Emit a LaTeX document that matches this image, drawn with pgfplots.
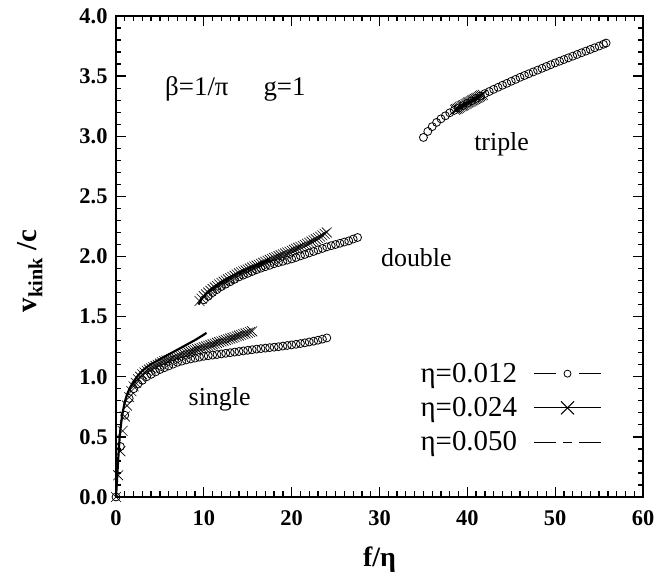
\documentclass[border=0pt]{standalone}
\usepackage{fontspec}
\setmainfont{Liberation Serif}
\usepackage{pgfplots}
\pgfplotsset{compat=1.18}
\begin{document}
\begin{tikzpicture}
\begin{axis}[
  scale only axis, width=527bp, height=481bp,
  xmin=0, xmax=60, ymin=0, ymax=4,
  xtick={0,10,...,60}, ytick={0,0.5,...,4},
  minor x tick num=9, minor y tick num=4,
  tick align=inside, major tick length=10bp, minor tick length=5.5bp,
  every tick/.append style={line width=1.3pt, black},
  axis line style={line width=1.5pt},
  /pgf/number format/assume math mode=true,
  xticklabel style={font=\fontsize{22.5}{25}\selectfont\bfseries, yshift=-10bp},
  yticklabel style={font=\fontsize{22.5}{25}\selectfont\bfseries, xshift=-5bp, /pgf/number format/.cd, fixed, fixed zerofill, precision=1},
  xlabel={\textbf{f/η}}, ylabel={\textbf{v\textsubscript{kink} /c}},
  xlabel style={font=\fontsize{28}{30}\selectfont, at={(axis description cs:0.5,-0.131)}, anchor=center},
  ylabel style={font=\fontsize{29}{30}\selectfont, at={(axis description cs:-0.163,0.47)}, anchor=center},
  legend plot pos=right,
  legend cell align=right,
  legend style={at={(axis cs:55.3,1.13)}, anchor=north east, draw=none, fill=none,
    font=\fontsize{29}{32}\selectfont, row sep=9.5bp, inner sep=0pt},
  clip=false,
]
\coordinate (sw) at (rel axis cs:0,0);
% eta = 0.012 : circles
\addplot[only marks, mark=o, mark size=4pt, mark options={line width=0.8pt, fill=white},
  legend image code/.code={\path[draw=none, fill=none] (0bp,0bp) -- (15bp,0bp); \draw[line width=1pt] (15bp,0bp) -- (37bp,0bp); \draw[line width=0.8pt] (48.5bp,0bp) circle (3.5bp); \draw[line width=1pt] (60bp,0bp) -- (82bp,0bp);}]
coordinates {
(0,0) (0.5,0.42) (1,0.68) (1.5,0.82) (2,0.90) (2.5,0.94) (3,0.97) (3.5,1.0) (4,1.02) (4.5,1.04)
(5,1.06) (5.5,1.075) (6,1.09) (6.5,1.105) (7,1.12) (7.5,1.13) (8,1.14) (8.5,1.148) (9,1.155) (9.5,1.163)
(10,1.17) (10.5,1.175) (11,1.18) (11.5,1.185) (12,1.19) (12.5,1.195) (13,1.20) (13.5,1.205) (14,1.21) (14.5,1.215)
(15,1.22) (15.5,1.225) (16,1.23) (16.5,1.234) (17,1.238) (17.5,1.242) (18,1.246) (18.5,1.25) (19,1.255) (19.5,1.26)
(20,1.265) (20.5,1.27) (21,1.276) (21.5,1.282) (22,1.289) (22.5,1.296) (23,1.304) (23.5,1.313) (24,1.323)
};
\addlegendentry{η=0.012}
% eta = 0.024 : crosses
\addplot[only marks, mark=x, mark size=7pt, mark options={line width=0.6pt},
  legend image code/.code={\path[draw=none, fill=none] (0bp,0bp) -- (15bp,0bp); \draw[line width=1pt] (15bp,0bp) -- (82bp,0bp); \draw[line width=1pt] (42bp,-6.5bp) -- (55bp,6.5bp); \draw[line width=1pt] (42bp,6.5bp) -- (55bp,-6.5bp);}]
coordinates {
(0,0) (0.25,0.18) (0.5,0.38) (0.75,0.55) (1,0.67) (1.25,0.76) (1.5,0.83) (1.75,0.88) (2,0.92) (2.25,0.95)
(2.5,0.98) (2.75,1.0) (3,1.02) (3.25,1.035) (3.5,1.05) (3.75,1.06) (4,1.07) (4.25,1.08) (4.5,1.09) (4.75,1.10)
(5,1.11) (5.25,1.12) (5.5,1.13) (5.75,1.135) (6,1.14) (6.25,1.148) (6.5,1.155) (6.75,1.162) (7,1.17) (7.25,1.177)
(7.5,1.184) (7.75,1.19) (8,1.197) (8.25,1.203) (8.5,1.21) (8.75,1.216) (9,1.222) (9.25,1.228) (9.5,1.234) (9.75,1.24)
(10,1.246) (10.25,1.252) (10.5,1.258) (10.75,1.264) (11,1.27) (11.25,1.276) (11.5,1.282) (11.75,1.288) (12,1.294) (12.25,1.30)
(12.5,1.306) (12.75,1.312) (13,1.318) (13.25,1.324) (13.5,1.33) (13.75,1.336) (14,1.342) (14.25,1.348) (14.5,1.354) (14.75,1.36)
(15,1.366) (15.25,1.372) (15.5,1.378)
};
\addlegendentry{η=0.024}
% eta = 0.050 : dense dashes (thick curve)
\addplot[line width=2.2pt, no marks,
  legend image code/.code={\path[draw=none, fill=none] (0bp,0bp) -- (15bp,0bp); \draw[line width=1pt] (15bp,0bp) -- (37bp,0bp); \draw[line width=1pt] (44bp,0bp) -- (53bp,0bp); \draw[line width=1pt] (60bp,0bp) -- (82bp,0bp);}]
coordinates {
(0,0) (0.1,0.12) (0.2,0.25) (0.3,0.37) (0.4,0.48) (0.5,0.56) (0.7,0.68) (1,0.79) (1.3,0.86) (1.6,0.91)
(2,0.96) (2.5,1.01) (3,1.05) (3.5,1.08) (4,1.105) (5,1.145) (6,1.185) (7,1.225) (8,1.265) (9,1.305) (10,1.35) (10.3,1.365)
};
\addlegendentry{η=0.050}
% double branch
\addplot[forget plot, only marks, mark=o, mark size=4pt, mark options={line width=0.8pt, fill=white}]
coordinates {
(10,1.64) (10.5,1.67) (11,1.70) (11.5,1.725) (12,1.75) (12.5,1.77) (13,1.79) (13.5,1.81) (14,1.83) (14.5,1.845)
(15,1.86) (15.5,1.875) (16,1.89) (16.5,1.903) (17,1.915) (17.5,1.927) (18,1.94) (18.5,1.95) (19,1.96) (19.5,1.97)
(20,1.98) (20.5,1.992) (21,2.005) (21.5,2.017) (22,2.03) (22.5,2.042) (23,2.055) (23.5,2.067) (24,2.08) (24.5,2.09)
(25,2.10) (25.5,2.11) (26,2.12) (26.5,2.13) (27,2.145) (27.5,2.158)
};
\addplot[forget plot, only marks, mark=x, mark size=7pt, mark options={line width=0.6pt}]
coordinates {
(9.5,1.63) (9.75,1.65) (10,1.67) (10.25,1.685) (10.5,1.70) (10.75,1.715) (11,1.73) (11.25,1.743) (11.5,1.755) (11.75,1.768)
(12,1.78) (12.25,1.79) (12.5,1.80) (12.75,1.81) (13,1.82) (13.25,1.83) (13.5,1.84) (13.75,1.85) (14,1.86) (14.25,1.868)
(14.5,1.876) (14.75,1.884) (15,1.892) (15.25,1.90) (15.5,1.908) (15.75,1.916) (16,1.924) (16.25,1.932) (16.5,1.94) (16.75,1.948)
(17,1.956) (17.25,1.964) (17.5,1.972) (17.75,1.98) (18,1.988) (18.25,1.995) (18.5,2.003) (18.75,2.01) (19,2.018) (19.25,2.025)
(19.5,2.033) (19.75,2.04) (20,2.048) (20.25,2.056) (20.5,2.064) (20.75,2.072) (21,2.08) (21.25,2.088) (21.5,2.097) (21.75,2.106)
(22,2.115) (22.25,2.124) (22.5,2.134) (22.75,2.144) (23,2.154) (23.25,2.165) (23.5,2.176) (23.75,2.188) (24,2.20)
};
\addplot[forget plot, line width=2.2pt, no marks]
coordinates {
(9.4,1.6) (9.7,1.64) (10,1.67) (10.5,1.71) (11,1.74) (12,1.79) (13,1.83) (14,1.865) (15,1.9) (16,1.93) (17,1.96) (17.5,1.975)
};
% triple branch
\addplot[forget plot, only marks, mark=o, mark size=4pt, mark options={line width=0.8pt, fill=white}]
coordinates {
(35,2.99) (35.5,3.04) (36,3.08) (36.5,3.115) (37,3.145) (37.5,3.17) (38,3.195) (38.5,3.215) (39,3.235) (39.5,3.255)
(40,3.275) (40.5,3.295) (41,3.315) (41.5,3.335) (42,3.355) (42.5,3.372) (43,3.39) (43.5,3.407) (44,3.424) (44.5,3.44)
(45,3.457) (45.5,3.473) (46,3.49) (46.5,3.505) (47,3.52) (47.5,3.535) (48,3.55) (48.5,3.565) (49,3.58) (49.5,3.595)
(50,3.61) (50.5,3.624) (51,3.638) (51.5,3.652) (52,3.666) (52.5,3.68) (53,3.694) (53.5,3.708) (54,3.722) (54.5,3.736)
(55,3.75) (55.5,3.765) (55.8,3.775)
};
\addplot[forget plot, only marks, mark=x, mark size=7pt, mark options={line width=0.6pt}]
coordinates {
(38.6,3.22) (38.75,3.225) (38.9,3.23) (39.05,3.237) (39.2,3.243) (39.35,3.25) (39.5,3.255) (39.65,3.26) (39.8,3.267) (39.95,3.273)
(40.1,3.28) (40.25,3.285) (40.4,3.29) (40.55,3.297) (40.7,3.303) (40.85,3.31) (41.0,3.315) (41.15,3.32) (41.3,3.327) (41.45,3.333)
(41.6,3.34) (41.75,3.345)
};
\addplot[forget plot, line width=2.2pt, no marks]
coordinates {(38.8,3.225) (39.5,3.255) (40.5,3.295) (41.5,3.335)};
% annotations
\node[anchor=base west, font=\fontsize{27}{30}\selectfont] at (axis cs:5.2,3.34) {β=1/π\hspace{1.3em}g=1};
\node[anchor=base, font=\fontsize{26}{30}\selectfont] at (axis cs:11.8,0.76) {single};
\node[anchor=base, font=\fontsize{26}{30}\selectfont] at (axis cs:34.2,1.92) {double};
\node[anchor=base, font=\fontsize{26}{30}\selectfont] at (axis cs:43.9,2.88) {triple};
\end{axis}
\path (sw) ++(-116bp,-83bp) rectangle ++(668bp,580bp);
\end{tikzpicture}
\end{document}
